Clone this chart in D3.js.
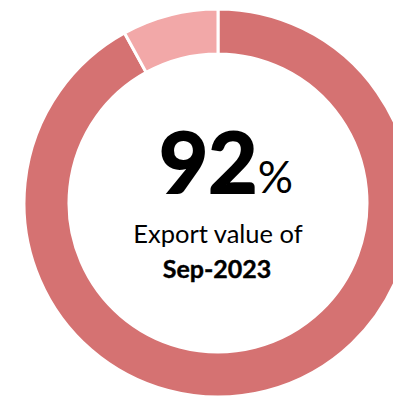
<!DOCTYPE html>
<html><head><meta charset="utf-8">
<script src="https://cdn.jsdelivr.net/npm/d3@7"></script>
<style>html,body{margin:0;padding:0;background:#fff;overflow:hidden}</style>
</head><body>
<svg id="chart" width="393" height="397"></svg>
<script>
const categories = ["Sep-2023 share", "Remainder"];
const values = [92, 8];
const colors = ["#D57272", "#F2A8A8"];
const centerValue = "92";
const centerUnit = "%";
const line1 = "Export value of";
const line2 = "Sep-2023";

const svg = d3.select("#chart");
const cx = 218, cy = 203, rOuter = 194, rInner = 149;
const g = svg.append("g").attr("transform", `translate(${cx},${cy})`);
const pie = d3.pie().sort(null).value(d => d.v);
const arc = d3.arc().innerRadius(rInner).outerRadius(rOuter);
const data = categories.map((c, i) => ({c, v: values[i], col: colors[i]}));
g.selectAll("path").data(pie(data)).join("path")
  .attr("d", arc).attr("fill", d => d.data.col)
  .attr("stroke", "#fff").attr("stroke-width", 3);

const font = "Lato, 'Open Sans', sans-serif";
const t = svg.append("text").attr("x", 226).attr("y", 193)
  .attr("text-anchor", "middle").attr("font-family", font).attr("fill", "#000");
t.append("tspan").attr("font-weight", "bold").attr("font-size", 85)
  .attr("stroke", "#000").attr("stroke-width", 2).text(centerValue);
t.append("tspan").attr("font-size", 44).text(centerUnit);
svg.append("text").attr("x", 218).attr("y", 243).attr("text-anchor", "middle")
  .attr("font-family", font).attr("font-size", 25.5).attr("fill", "#000").text(line1);
svg.append("text").attr("x", 217).attr("y", 278).attr("text-anchor", "middle")
  .attr("font-family", font).attr("font-weight", "bold").attr("font-size", 25).attr("fill", "#000")
  .attr("stroke", "#000").attr("stroke-width", 0.4).text(line2);
</script>
</body></html>
